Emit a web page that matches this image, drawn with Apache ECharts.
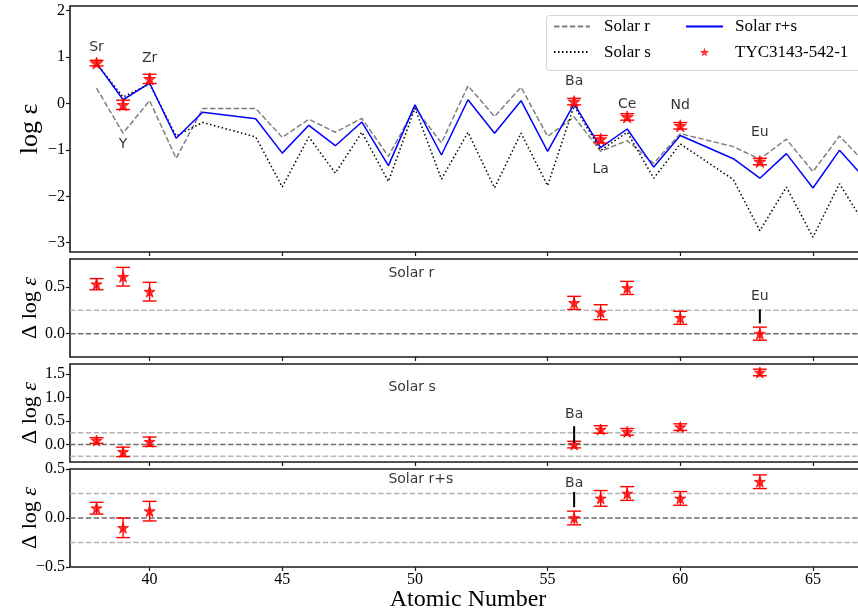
<!DOCTYPE html>
<html>
<head>
<meta charset="utf-8">
<script src="https://cdn.jsdelivr.net/npm/echarts@6/dist/echarts.min.js"></script>
<style>
html,body{margin:0;padding:0;background:#fff;}
#chart{width:858px;height:613px;}
</style>
</head>
<body>
<div id="chart"></div>
<script>
// ---------------- data ----------------
const solarZ = [38,39,40,41,42,44,45,46,47,48,49,50,51,52,53,54,55,56,57,58,59,60,62,63,64,65,66,67];
const solarR = [0.33,-0.64,0.06,-1.18,-0.11,-0.11,-0.73,-0.34,-0.62,-0.32,-1.14,-0.10,-0.85,0.38,-0.28,0.35,-0.71,-0.29,-1.03,-0.80,-1.29,-0.65,-0.93,-1.20,-0.77,-1.47,-0.70,-1.30];
const solarS = [0.86,0.14,0.42,-0.70,-0.41,-0.72,-1.80,-0.72,-1.50,-0.62,-1.68,-0.10,-1.63,-0.62,-1.82,-0.64,-1.77,-0.05,-1.01,-0.62,-1.61,-0.87,-1.64,-2.74,-1.80,-2.88,-1.73,-2.65];
const solarRS = [0.87,0.08,0.44,-0.75,-0.19,-0.33,-1.07,-0.47,-0.91,-0.40,-1.34,-0.03,-1.11,0.08,-0.64,0.06,-1.03,-0.01,-0.95,-0.55,-1.37,-0.69,-1.19,-1.61,-1.08,-1.82,-1.01,-1.64];

const elements = ['Sr','Y','Zr','Ba','La','Ce','Nd','Eu'];
const starZ = [38,39,40,56,57,58,60,63];
const starLogEps = [0.87,-0.03,0.53,0.04,-0.77,-0.29,-0.48,-1.25];
const starErr = [0.06,0.10,0.10,0.07,0.08,0.07,0.07,0.07];
const residR = [0.53,0.61,0.45,0.33,0.23,0.49,0.17,0.00];
const residS = [0.085,-0.155,0.06,0.00,0.32,0.27,0.37,1.53];
const residRS = [0.10,-0.10,0.07,0.00,0.20,0.25,0.20,0.37];

// element name annotations in main panel (data coords)
const mainLabelY = [1.215,-0.89,0.98,0.47,-1.41,-0.01,-0.05,-0.625];

// residual annotations: [Z, label y, line top, line bottom]
const noteR = {name:'Eu', z:63, y:0.40, y1:0.26, y2:0.11};
const noteS = {name:'Ba', z:56, y:0.635, y1:0.39, y2:0.035};
const noteRS = {name:'Ba', z:56, y:0.35, y1:0.265, y2:0.11};

const panelTitles = ['Solar r','Solar s','Solar r+s'];
const panelTitleZ = 49;
const panelTitleY = [0.645, 1.21, 0.395];

const refLevels = [[0.25, 0], [0.25, 0, -0.25], [0.25, 0, -0.25]];

const xMin = 37, xMax = 67;
const xTicks = [40,45,50,55,60,65];
const yRanges = [[-3.2, 2.1], [-0.25, 0.8], [-0.37, 1.71], [-0.5, 0.5]];
const yTicks = [[-3,-2,-1,0,1,2], [0.0,0.5], [0.0,0.5,1.0,1.5], [-0.5,0.0,0.5]];

// ---------------- chart ----------------
const STAR = 'path://M100 0 L122.45 69.1 L195.11 69.1 L136.33 111.8 L158.78 180.9 L100 138.2 L41.22 180.9 L63.67 111.8 L4.89 69.1 L77.55 69.1 Z';
const SERIF = '"Liberation Serif","Times New Roman",serif';
const SANS = '"DejaVu Sans",sans-serif';
const FRAME = '#1a1a1a';

const gridPos = [[6,246],[259,98],[364,98],[469,98]];
const grids = gridPos.map(g => ({left:70, right:-8, top:g[0], height:g[1], show:true,
  borderColor:FRAME, borderWidth:1.6, backgroundColor:'transparent', outerBoundsMode:'none', containLabel:false}));

function fmt(v, dec){
  const s = Math.abs(v).toFixed(dec);
  return (v < 0 ? '\u2212' : '') + s;
}

const xAxes = [0,1,2,3].map(i => ({
  type:'value', gridIndex:i, min:xMin, max:xMax,
  axisLine:{show:false, onZero:false},
  splitLine:{show:false},
  axisTick:{show:true, customValues:xTicks, length:4, lineStyle:{color:FRAME, width:1.2}},
  axisLabel:{show:i===3, customValues:xTicks, margin:5, fontFamily:SERIF, fontSize:16, color:'#000'},
  name: i===3 ? 'Atomic Number' : '',
  nameLocation:'middle', nameGap:21, nameMoveOverlap:false,
  nameTextStyle:{fontFamily:SERIF, fontSize:24, color:'#000'}
}));

const yAxes = [0,1,2,3].map(i => ({
  type:'value', gridIndex:i, min:yRanges[i][0], max:yRanges[i][1],
  axisLine:{show:false, onZero:false},
  splitLine:{show:false},
  axisTick:{show:true, customValues:yTicks[i], length:4, lineStyle:{color:FRAME, width:1.2}},
  axisLabel:{customValues:yTicks[i], margin:5, fontFamily:SERIF, fontSize:16, color:'#000',
    formatter: v => fmt(v, i===0 ? 0 : 1)},
  name: i===0 ? 'log ε' : 'Δ log {e|ε}',
  nameLocation:'middle', nameGap: i===0 ? 27 : 29, nameMoveOverlap:false,
  nameTextStyle:{fontFamily:SERIF, fontSize: i===0 ? 26 : 22, color:'#000',
    rich:{e:{fontFamily:SERIF, fontSize:22, fontStyle:'italic', color:'#000'}}}
}));

function errRender(params, api){
  const x = api.value(0), y = api.value(1), e = api.value(2);
  const t = api.coord([x, y + e]);
  const b = api.coord([x, y - e]);
  const hw = 7;
  const st = {stroke:'#ff0000', lineWidth:1.4};
  return {type:'group', children:[
    {type:'line', shape:{x1:t[0], y1:t[1], x2:b[0], y2:b[1]}, style:st},
    {type:'line', shape:{x1:t[0]-hw, y1:t[1], x2:t[0]+hw, y2:t[1]}, style:st},
    {type:'line', shape:{x1:b[0]-hw, y1:b[1], x2:b[0]+hw, y2:b[1]}, style:st}
  ]};
}

const zip2 = (xs, ys) => xs.map((x, k) => [x, ys[k]]);
const zip3 = (xs, ys, es) => xs.map((x, k) => [x, ys[k], es[k]]);

const series = [];
// main panel curves
series.push({name:'Solar r', type:'line', xAxisIndex:0, yAxisIndex:0, data:zip2(solarZ, solarR), symbol:'none',
  lineStyle:{color:'#808080', width:1.5, type:[5.5,2.4]}, itemStyle:{color:'#808080'}, z:2});
series.push({name:'Solar s', type:'line', xAxisIndex:0, yAxisIndex:0, data:zip2(solarZ, solarS), symbol:'none',
  lineStyle:{color:'#000', width:1.5, type:[1.5,2.5]}, itemStyle:{color:'#000'}, z:2});
series.push({name:'Solar r+s', type:'line', xAxisIndex:0, yAxisIndex:0, data:zip2(solarZ, solarRS), symbol:'none',
  lineStyle:{color:'#0000ff', width:1.5}, itemStyle:{color:'#0000ff'}, z:3});

// stars + error bars per panel
const panelVals = [starLogEps, residR, residS, residRS];
panelVals.forEach((vals, i) => {
  series.push({type:'custom', xAxisIndex:i, yAxisIndex:i, renderItem:errRender,
    data:zip3(starZ, vals, starErr), z:4, silent:true});
  series.push({name: i===0 ? 'TYC3143-542-1' : 'resid' + i, type:'scatter', xAxisIndex:i, yAxisIndex:i,
    data:zip2(starZ, vals), symbol:STAR, symbolSize: i===0 ? 12 : 11,
    itemStyle:{color:'#ff0000', borderColor:'#ff0000', borderWidth:1}, z:5, silent:true});
});

// element labels main panel
series.push({type:'scatter', xAxisIndex:0, yAxisIndex:0, symbolSize:0, silent:true,
  data: starZ.map((z, k) => ({name:elements[k], value:[z, mainLabelY[k]]})),
  label:{show:true, position:'inside', formatter:p => p.name, fontFamily:SANS, fontSize:14, color:'#000'}, z:6});

// reference dashed lines in residual panels
refLevels.forEach((levels, j) => {
  levels.forEach(lv => {
    series.push({type:'line', xAxisIndex:j+1, yAxisIndex:j+1, symbol:'none', silent:true,
      data:[[xMin, lv],[xMax, lv]],
      lineStyle:{color: lv === 0 ? '#6e6e6e' : '#b5b5b5', width:1.5, type:[5.5,2.4]}, z:1});
  });
});

// panel titles
panelTitles.forEach((t, j) => {
  series.push({type:'scatter', xAxisIndex:j+1, yAxisIndex:j+1, symbolSize:0, silent:true,
    data:[{name:t, value:[panelTitleZ, panelTitleY[j]]}],
    label:{show:true, position:'inside', align:'left', formatter:p => p.name, fontFamily:SANS, fontSize:14, color:'#000'}, z:6});
});

// residual notes
[noteR, noteS, noteRS].forEach((n, j) => {
  series.push({type:'line', xAxisIndex:j+1, yAxisIndex:j+1, symbol:'none', silent:true,
    data:[[n.z, n.y1],[n.z, n.y2]], lineStyle:{color:'#000', width:2}, z:6});
  series.push({type:'scatter', xAxisIndex:j+1, yAxisIndex:j+1, symbolSize:0, silent:true,
    data:[{name:n.name, value:[n.z, n.y]}],
    label:{show:true, position:'inside', formatter:p => p.name, fontFamily:SANS, fontSize:14, color:'#000'}, z:6});
});

const noSym = {opacity:0};
const option = {
  animation:false,
  backgroundColor:'#fff',
  grid:grids,
  xAxis:xAxes,
  yAxis:yAxes,
  legend:[
    {data:[{name:'Solar r', itemStyle:noSym},{name:'Solar s', itemStyle:noSym}], orient:'vertical', left:553, top:18, padding:0, itemGap:8.6,
     itemWidth:36, itemHeight:12, selectedMode:false,
     textStyle:{fontFamily:SERIF, fontSize:17, color:'#000', padding:[0,0,0,9]}},
    {data:[{name:'Solar r+s', itemStyle:noSym},
           {name:'TYC3143-542-1', icon:STAR, itemStyle:{color:'#ff0000', borderWidth:0}}],
     orient:'vertical', left:685, top:18, padding:0, itemGap:8.6,
     itemWidth:37, itemHeight:9, selectedMode:false,
     textStyle:{fontFamily:SERIF, fontSize:17, color:'#000', padding:[0,0,0,7]}}
  ],
  graphic:[
    {type:'rect', left:546, top:15, shape:{width:320, height:55, r:3}, z:-1,
     style:{fill:'rgba(255,255,255,0.8)', stroke:'#d4d4d4', lineWidth:1}}
  ],
  series:series
};

const chart = echarts.init(document.getElementById('chart'), null, {renderer:'canvas'});
chart.setOption(option);
</script>
</body>
</html>
